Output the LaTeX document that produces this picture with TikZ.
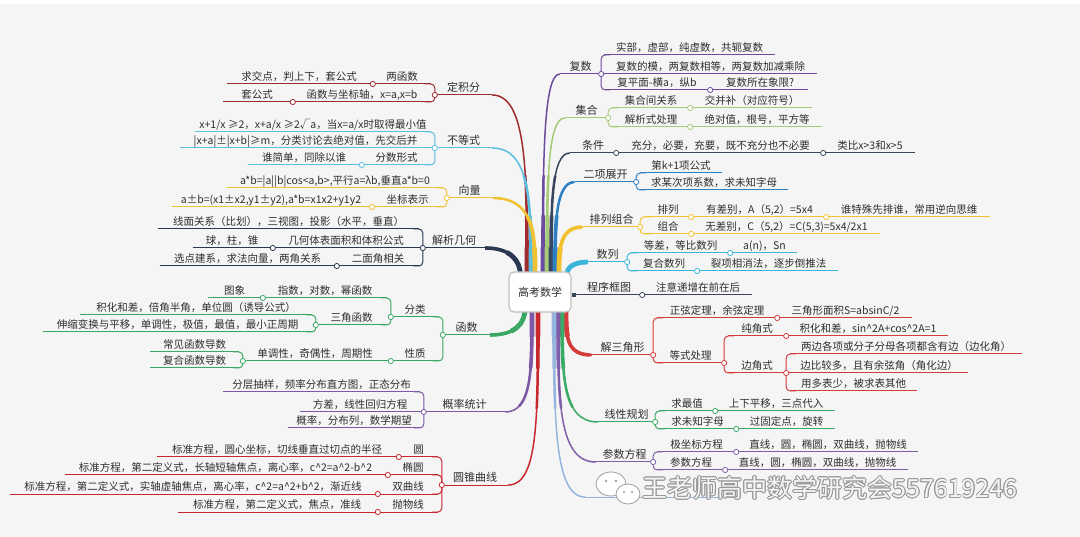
\documentclass[tikz,border=0pt]{standalone}
\usepackage{fontspec}
\newfontfamily\cjk{Noto Sans CJK SC}
\usetikzlibrary{backgrounds}

\definecolor{bgc}{HTML}{F5F5F5}
\definecolor{txt}{HTML}{2E2E2E}
\definecolor{cdj}{HTML}{9E2B2E}
\definecolor{cbd}{HTML}{5BBFE0}
\definecolor{cxl}{HTML}{F0C232}
\definecolor{cjx}{HTML}{2A3852}
\definecolor{chs}{HTML}{3AA862}
\definecolor{cgl}{HTML}{7C58A6}
\definecolor{cyz}{HTML}{C7282E}
\definecolor{cfs}{HTML}{6B4C9E}
\definecolor{cjh}{HTML}{A6CB78}
\definecolor{ctj}{HTML}{39465F}
\definecolor{cex}{HTML}{2F80C2}
\definecolor{cpz}{HTML}{F2C12E}
\definecolor{csl}{HTML}{3CB5DA}
\definecolor{ccx}{HTML}{3B465E}
\definecolor{csj}{HTML}{D43B3B}
\definecolor{cxg}{HTML}{3AAA66}
\definecolor{ccs}{HTML}{7E5DA9}
\definecolor{cls}{HTML}{96B5DE}

\tikzset{
  tp/.style={anchor=south, inner xsep=0pt, inner ysep=1pt, text height=8.5pt, text depth=2pt, text=txt},
  hd/.style={tp, font=\cjk\fontsize{11}{13}\selectfont},
  ln/.style={draw=#1, line width=1pt},
  kn/.style={draw=#1, line width=1pt, rounded corners=4pt},
  ring/.style={fill=white, draw=#1, line width=0.8pt},
  wm/.style={font=\cjk\fontsize{25}{28}\selectfont, inner sep=0pt}
}

\newcommand\trunk[2]{%
  \foreach \tw/\tl in {4.8pt/28pt,3.6pt/60pt,2.5pt/100pt}
    \draw[draw=#1, line width=\tw, dash pattern=on \tl off 3000pt] #2;
  \draw[draw=#1, line width=1.5pt] #2;}
\newcommand\ca{\textasciicircum}

\begin{document}
\begin{tikzpicture}[x=1pt, y=1pt, font=\cjk\fontsize{10.5}{12}\selectfont]
        \useasboundingbox (0,0) rectangle (1080,-537);

        \node[draw=gray!50, fill=white, rounded corners=5pt, line width=1.2pt, minimum width=62pt, minimum height=40pt, font=\cjk\fontsize{11}{13}\selectfont, text=txt] (root) at (540,-292) {高考数学};

        % right side
        \node[hd, minimum width=41pt] (fs) at (580.5,-74) {复数};
        \node[tp, minimum width=171pt] (fs1) at (689.5,-55) {实部，虚部，纯虚数，共轭复数};
        \node[tp, minimum width=213pt] (fs2) at (710.5,-74) {复数的模，两复数相等，两复数加减乘除};
        \node[tp, minimum width=106pt] (fs3) at (657,-90) {复平面-横a，纵b};
        \node[tp, minimum width=96pt] (fs3a) at (760,-90) {复数所在象限?};
        \foreach \n in {fs,fs1,fs2,fs3,fs3a} \draw[ln=cfs] (\n.south west) -- (\n.south east);
        \foreach \pn/\cn in {fs/fs1,fs/fs3} \draw[kn=cfs] (\pn.south east) |- ([xshift=6pt]\cn.south west);
        \foreach \pn/\cn in {fs/fs2,fs3/fs3a} \draw[ln=cfs] (\pn.south east) -- (\cn.south west);
        \foreach \n in {fs,fs3} \filldraw[ring=cfs] (\n.south east) circle (2.6pt);

        \node[hd, minimum width=43pt] (jh) at (586.5,-118) {集合};
        \node[tp, minimum width=78pt] (jh1) at (651,-108) {集合间关系};
        \node[tp, minimum width=120pt] (jh1a) at (752,-108) {交并补（对应符号）};
        \node[tp, minimum width=78pt] (jh2) at (651,-127) {解析式处理};
        \node[tp, minimum width=130pt] (jh2a) at (757,-127) {绝对值，根号，平方等};
        \foreach \n in {jh,jh1,jh1a,jh2,jh2a} \draw[ln=cjh] (\n.south west) -- (\n.south east);
        \foreach \pn/\cn in {jh/jh1,jh/jh2} \draw[kn=cjh] (\pn.south east) |- ([xshift=6pt]\cn.south west);
        \foreach \pn/\cn in {jh1/jh1a,jh2/jh2a} \draw[ln=cjh] (\pn.south east) -- (\cn.south west);
        \foreach \n in {jh,jh1,jh2} \filldraw[ring=cjh] (\n.south east) circle (2.6pt);

        \node[hd, minimum width=46pt] (tj) at (593,-153) {条件};
        \node[tp, minimum width=205pt] (tj1) at (720.5,-153) {充分，必要，充要，既不充分也不必要};
        \node[tp, minimum width=90pt] (tj1a) at (870,-153) {类比x>3和x>5};
        \foreach \n in {tj,tj1,tj1a} \draw[ln=ctj] (\n.south west) -- (\n.south east);
        \foreach \pn/\cn in {tj/tj1,tj1/tj1a} \draw[ln=ctj] (\pn.south east) -- (\cn.south west);
        \foreach \n in {tj,tj1} \filldraw[ring=ctj] (\n.south east) circle (2.6pt);

        \node[hd, minimum width=61pt] (ex) at (605.5,-182) {二项展开};
        \node[tp, minimum width=82pt] (ex1) at (681,-173) {第k+1项公式};
        \node[tp, minimum width=148pt] (ex2) at (714,-190) {求某次项系数，求未知字母};
        \foreach \n in {ex,ex1,ex2} \draw[ln=cex] (\n.south west) -- (\n.south east);
        \foreach \pn/\cn in {ex/ex1,ex/ex2} \draw[kn=cex] (\pn.south east) |- ([xshift=6pt]\cn.south west);
        \filldraw[ring=cex] (ex.south east) circle (2.6pt);

        \node[hd, minimum width=57pt] (pz) at (611.5,-227) {排列组合};
        \node[tp, minimum width=46pt] (pz1) at (668,-217) {排列};
        \node[tp, minimum width=133pt] (pz1a) at (759.5,-217) {有差别，A（5,2）=5x4};
        \node[tp, minimum width=162pt] (pz1b) at (909,-217) {谁特殊先排谁，常用逆向思维};
        \node[tp, minimum width=46pt] (pz2) at (668,-234) {组合};
        \node[tp, minimum width=187pt] (pz2a) at (786.5,-234) {无差别，C（5,2）=C(5,3)=5x4/2x1};
        \foreach \n in {pz,pz1,pz1a,pz1b,pz2,pz2a} \draw[ln=cpz] (\n.south west) -- (\n.south east);
        \foreach \pn/\cn in {pz/pz1,pz/pz2} \draw[kn=cpz] (\pn.south east) |- ([xshift=6pt]\cn.south west);
        \foreach \pn/\cn in {pz1/pz1a,pz1a/pz1b,pz2/pz2a} \draw[ln=cpz] (\pn.south east) -- (\cn.south west);
        \foreach \n in {pz,pz1,pz1a,pz2} \filldraw[ring=cpz] (\n.south east) circle (2.6pt);

        \node[hd, minimum width=39pt] (sl) at (607.5,-262) {数列};
        \node[tp, minimum width=99pt] (sl1) at (680.5,-253) {等差，等比数列};
        \node[tp, minimum width=65pt] (sl1a) at (764.5,-253) {a(n)，Sn};
        \node[tp, minimum width=66pt] (sl2) at (664,-271) {复合数列};
        \node[tp, minimum width=139pt] (sl2a) at (768.5,-271) {裂项相消法，逐步倒推法};
        \foreach \n in {sl,sl1,sl1a,sl2,sl2a} \draw[ln=csl] (\n.south west) -- (\n.south east);
        \foreach \pn/\cn in {sl/sl1,sl/sl2} \draw[kn=csl] (\pn.south east) |- ([xshift=6pt]\cn.south west);
        \foreach \pn/\cn in {sl1/sl1a,sl2/sl2a} \draw[ln=csl] (\pn.south east) -- (\cn.south west);
        \foreach \n in {sl,sl1,sl2} \filldraw[ring=csl] (\n.south east) circle (2.6pt);

        \node[hd, minimum width=66pt] (cx) at (609,-295) {程序框图};
        \node[tp, minimum width=108pt] (cx1) at (698,-295) {注意递增在前在后};
        \foreach \n in {cx,cx1} \draw[ln=ccx] (\n.south west) -- (\n.south east);
        \draw[ln=ccx] (cx.south east) -- (cx1.south west);
        \filldraw[ring=ccx] (cx.south east) circle (2.6pt);

        \node[hd, minimum width=61pt] (sj) at (622.5,-355) {解三角形};
        \node[tp, minimum width=120pt] (sj1) at (717,-318) {正弦定理，余弦定理};
        \node[tp, minimum width=133pt] (sj1a) at (845.5,-318) {三角形面积S=absinC/2};
        \node[tp, minimum width=67pt] (sj2) at (690.5,-363) {等式处理};
        \node[tp, minimum width=58pt] (sj2a) at (757,-336) {纯角式};
        \node[tp, minimum width=160pt] (sj2a1) at (868,-336) {积化和差，sin\ca 2A+cos\ca 2A=1};
        \node[tp, minimum width=58pt] (sj2b) at (757,-373) {边角式};
        \node[tp, minimum width=232pt] (sj2b1) at (906,-354) {两边各项或分子分母各项都含有边（边化角）};
        \node[tp, minimum width=178pt] (sj2b2) at (879,-373) {边比较多，且有余弦角（角化边）};
        \node[tp, minimum width=127pt] (sj2b3) at (853.5,-391) {用多表少，被求表其他};
        \foreach \n in {sj,sj1,sj1a,sj2,sj2a,sj2a1,sj2b,sj2b1,sj2b2,sj2b3} \draw[ln=csj] (\n.south west) -- (\n.south east);
        \foreach \pn/\cn in {sj/sj1,sj/sj2,sj2/sj2a,sj2/sj2b,sj2b/sj2b1,sj2b/sj2b3} \draw[kn=csj] (\pn.south east) |- ([xshift=6pt]\cn.south west);
        \foreach \pn/\cn in {sj1/sj1a,sj2a/sj2a1,sj2b/sj2b2} \draw[ln=csj] (\pn.south east) -- (\cn.south west);
        \foreach \n in {sj,sj1,sj2,sj2a,sj2b} \filldraw[ring=csj] (\n.south east) circle (2.6pt);

        \node[hd, minimum width=57pt] (xg) at (626.5,-422) {线性规划};
        \node[tp, minimum width=56pt] (xg1) at (687,-411) {求最值};
        \node[tp, minimum width=118pt] (xg1a) at (776,-411) {上下平移，三点代入};
        \node[tp, minimum width=77pt] (xg2) at (697.5,-429) {求未知字母};
        \node[tp, minimum width=97pt] (xg2a) at (786.5,-429) {过固定点，旋转};
        \foreach \n in {xg,xg1,xg1a,xg2,xg2a} \draw[ln=cxg] (\n.south west) -- (\n.south east);
        \foreach \pn/\cn in {xg/xg1,xg/xg2} \draw[kn=cxg] (\pn.south east) |- ([xshift=6pt]\cn.south west);
        \foreach \pn/\cn in {xg1/xg1a,xg2/xg2a} \draw[ln=cxg] (\pn.south east) -- (\cn.south west);
        \foreach \n in {xg,xg1,xg2} \filldraw[ring=cxg] (\n.south east) circle (2.6pt);

        \node[hd, minimum width=57pt] (cs) at (624.5,-462) {参数方程};
        \node[tp, minimum width=79pt] (cs1) at (696.5,-452) {极坐标方程};
        \node[tp, minimum width=180pt] (cs1a) at (828,-452) {直线，圆，椭圆，双曲线，抛物线};
        \node[tp, minimum width=68pt] (cs2) at (691,-470) {参数方程};
        \node[tp, minimum width=181pt] (cs2a) at (817.5,-470) {直线，圆，椭圆，双曲线，抛物线};
        \foreach \n in {cs,cs1,cs1a,cs2,cs2a} \draw[ln=ccs] (\n.south west) -- (\n.south east);
        \foreach \pn/\cn in {cs/cs1,cs/cs2} \draw[kn=ccs] (\pn.south east) |- ([xshift=6pt]\cn.south west);
        \foreach \pn/\cn in {cs1/cs1a,cs2/cs2a} \draw[ln=ccs] (\pn.south east) -- (\cn.south west);
        \foreach \n in {cs,cs1,cs2} \filldraw[ring=ccs] (\n.south east) circle (2.6pt);

        \coordinate (ls0) at (585,-497);
        \coordinate (ls) at (636,-497);
        \coordinate (ls1) at (740,-497);
        \draw[ln=cls] (ls0) -- (ls1);
        \filldraw[ring=cls] (ls) circle (2.6pt);

        % left side
        \node[hd, minimum width=57pt] (dj) at (463.5,-95) {定积分};
        \node[tp, minimum width=58pt] (dj1) at (402,-84) {两函数};
        \node[tp, minimum width=144pt] (dj1a) at (299,-84) {求交点，判上下，套公式};
        \node[tp, minimum width=138pt] (dj2) at (362,-102) {函数与坐标轴，x=a,x=b};
        \node[tp, minimum width=68pt] (dj2a) at (257,-102) {套公式};
        \foreach \n in {dj,dj1,dj1a,dj2,dj2a} \draw[ln=cdj] (\n.south west) -- (\n.south east);
        \foreach \pn/\cn in {dj/dj1,dj/dj2} \draw[kn=cdj] (\pn.south west) |- ([xshift=-6pt]\cn.south east);
        \foreach \pn/\cn in {dj1/dj1a,dj2/dj2a} \draw[ln=cdj] (\pn.south west) -- (\cn.south east);
        \foreach \n in {dj,dj1,dj2} \filldraw[ring=cdj] (\n.south west) circle (2.6pt);

        \node[hd, minimum width=57pt] (bd) at (463.5,-148) {不等式};
        \node[tp, minimum width=236pt] (bd1) at (313,-132) {x+1/x ≥2，x+a/x ≥2√a，当x=a/x时取得最小值};
        \node[tp, minimum width=251pt] (bd2) at (305.5,-148) {|x+a|±|x+b|≥m，分类讨论去绝对值，先交后并};
        \node[tp, minimum width=69pt] (bd3) at (396.5,-165) {分数形式};
        \node[tp, minimum width=112pt] (bd3a) at (304,-165) {谁简单，同除以谁};
        \foreach \n in {bd,bd1,bd2,bd3,bd3a} \draw[ln=cbd] (\n.south west) -- (\n.south east);
        \foreach \pn/\cn in {bd/bd1,bd/bd3} \draw[kn=cbd] (\pn.south west) |- ([xshift=-6pt]\cn.south east);
        \foreach \pn/\cn in {bd/bd2,bd3/bd3a} \draw[ln=cbd] (\pn.south west) -- (\cn.south east);
        \foreach \n in {bd,bd3} \filldraw[ring=cbd] (\n.south west) circle (2.6pt);

        \node[hd, minimum width=45pt] (xl) at (469.5,-198) {向量};
        \node[tp, minimum width=216pt] (xl1) at (335,-188) {a*b=|a||b|cos<a,b>,平行a=λb,垂直a*b=0};
        \node[tp, minimum width=71pt] (xl2) at (407.5,-207) {坐标表示};
        \node[tp, minimum width=198pt] (xl2a) at (271,-207) {a±b=(x1±x2,y1±y2),a*b=x1x2+y1y2};
        \foreach \n in {xl,xl1,xl2,xl2a} \draw[ln=cxl] (\n.south west) -- (\n.south east);
        \foreach \pn/\cn in {xl/xl1,xl/xl2} \draw[kn=cxl] (\pn.south west) |- ([xshift=-6pt]\cn.south east);
        \draw[ln=cxl] (xl2.south west) -- (xl2a.south east);
        \foreach \n in {xl,xl2} \filldraw[ring=cxl] (\n.south west) circle (2.6pt);

        \node[hd, minimum width=62pt] (jx) at (454,-248) {解析几何};
        \node[tp, minimum width=261pt] (jx1) at (288.5,-229) {线面关系（比划），三视图，投影（水平，垂直）};
        \node[tp, minimum width=146pt] (jx2) at (346,-248) {几何体表面积和体积公式};
        \node[tp, minimum width=78pt] (jx2a) at (232,-248) {球，柱，锥};
        \node[tp, minimum width=82pt] (jx3) at (378,-266) {二面角相关};
        \node[tp, minimum width=175pt] (jx3a) at (247.5,-266) {选点建系，求法向量，两角关系};
        \foreach \n in {jx,jx1,jx2,jx2a,jx3,jx3a} \draw[ln=cjx] (\n.south west) -- (\n.south east);
        \foreach \pn/\cn in {jx/jx1,jx/jx3} \draw[kn=cjx] (\pn.south west) |- ([xshift=-6pt]\cn.south east);
        \foreach \pn/\cn in {jx/jx2,jx2/jx2a,jx3/jx3a} \draw[ln=cjx] (\pn.south west) -- (\cn.south east);
        \foreach \n in {jx,jx2,jx3} \filldraw[ring=cjx] (\n.south west) circle (2.6pt);

        \node[hd, minimum width=47pt] (hs) at (466.5,-335) {函数};
        \node[tp, minimum width=48pt] (hs1) at (415,-317) {分类};
        \node[tp, minimum width=124pt] (hs1a) at (325,-298) {指数，对数，幂函数};
        \node[tp, minimum width=53pt] (hs1a1) at (234.5,-298) {图象};
        \node[tp, minimum width=71pt] (hs1b) at (351.5,-325) {三角函数};
        \node[tp, minimum width=232pt] (hs1b1) at (196,-315) {积化和差，倍角半角，单位圆（诱导公式）};
        \node[tp, minimum width=269pt] (hs1b2) at (177.5,-332) {伸缩变换与平移，单调性，极值，最值，最小正周期};
        \node[tp, minimum width=48pt] (hs2) at (415,-361) {性质};
        \node[tp, minimum width=144pt] (hs2a) at (315,-361) {单调性，奇偶性，周期性};
        \node[tp, minimum width=89pt] (hs2a1) at (194.5,-352) {常见函数导数};
        \node[tp, minimum width=89pt] (hs2a2) at (194.5,-368) {复合函数导数};
        \foreach \n in {hs,hs1,hs1a,hs1a1,hs1b,hs1b1,hs1b2,hs2,hs2a,hs2a1,hs2a2} \draw[ln=chs] (\n.south west) -- (\n.south east);
        \foreach \pn/\cn in {hs/hs1,hs/hs2,hs1/hs1a,hs1/hs1b,hs1b/hs1b1,hs1b/hs1b2,hs2a/hs2a1,hs2a/hs2a2} \draw[kn=chs] (\pn.south west) |- ([xshift=-6pt]\cn.south east);
        \foreach \pn/\cn in {hs1a/hs1a1,hs2/hs2a} \draw[ln=chs] (\pn.south west) -- (\cn.south east);
        \foreach \n in {hs,hs1,hs1a,hs1b,hs2,hs2a} \filldraw[ring=chs] (\n.south west) circle (2.6pt);

        \node[hd, minimum width=81pt] (gl) at (464.5,-412) {概率统计};
        \node[tp, minimum width=197pt] (gl1) at (321.5,-392) {分层抽样，频率分布直方图，正态分布};
        \node[tp, minimum width=120pt] (gl2) at (360,-412) {方差，线性回归方程};
        \node[tp, minimum width=132pt] (gl3) at (354,-428) {概率，分布列，数学期望};
        \foreach \n in {gl,gl1,gl2,gl3} \draw[ln=cgl] (\n.south west) -- (\n.south east);
        \foreach \pn/\cn in {gl/gl1,gl/gl3} \draw[kn=cgl] (\pn.south west) |- ([xshift=-6pt]\cn.south east);
        \draw[ln=cgl] (gl.south west) -- (gl2.south east);
        \filldraw[ring=cgl] (gl.south west) circle (2.6pt);

        \node[hd, minimum width=66pt] (yz) at (475,-485) {圆锥曲线};
        \node[tp, minimum width=39pt] (yz1) at (418.5,-457) {圆};
        \node[tp, minimum width=240pt] (yz1a) at (277,-457) {标准方程，圆心坐标，切线垂直过切点的半径};
        \node[tp, minimum width=50pt] (yz2) at (413,-475) {椭圆};
        \node[tp, minimum width=321pt] (yz2a) at (225.5,-475) {标准方程，第二定义式，长轴短轴焦点，离心率，c\ca 2=a\ca 2-b\ca 2};
        \node[tp, minimum width=60pt] (yz3) at (408,-494) {双曲线};
        \node[tp, minimum width=366pt] (yz3a) at (193,-494) {标准方程，第二定义式，实轴虚轴焦点，离心率，c\ca 2=a\ca 2+b\ca 2，渐近线};
        \node[tp, minimum width=60pt] (yz4) at (408,-512) {抛物线};
        \node[tp, minimum width=198pt] (yz4a) at (277,-512) {标准方程，第二定义式，焦点，准线};
        \foreach \n in {yz,yz1,yz1a,yz2,yz2a,yz3,yz3a,yz4,yz4a} \draw[ln=cyz] (\n.south west) -- (\n.south east);
        \foreach \pn/\cn in {yz/yz1,yz/yz2,yz/yz3,yz/yz4} \draw[kn=cyz] (\pn.south west) |- ([xshift=-6pt]\cn.south east);
        \foreach \pn/\cn in {yz1/yz1a,yz2/yz2a,yz3/yz3a,yz4/yz4a} \draw[ln=cyz] (\pn.south west) -- (\cn.south east);
        \foreach \n in {yz,yz1,yz2,yz3,yz4} \filldraw[ring=cyz] (\n.south west) circle (2.6pt);

        \begin{scope}[on background layer]
          \fill[bgc] (0,0) rectangle (1080,-537);
          \fill[white] (0,0) rectangle (1080,-4);
          \trunk{cfs}{([xshift=3pt,yshift=-4pt]root.north) .. controls +(0,110) and +(-17,0) .. (fs.south west)}
          \trunk{cjh}{([xshift=7pt,yshift=-4pt]root.north) .. controls +(0,85) and +(-18,0) .. (jh.south west)}
          \trunk{ctj}{([xshift=11pt,yshift=-4pt]root.north) .. controls +(0,65) and +(-19,0) .. (tj.south west)}
          \trunk{cex}{([xshift=15pt,yshift=-4pt]root.north) .. controls +(0,48) and +(-20,0) .. (ex.south west)}
          \trunk{cpz}{([xshift=19pt,yshift=-4pt]root.north) .. controls +(0,25) and +(-24,0) .. (pz.south west)}
          \trunk{csl}{([xshift=-5pt,yshift=-4pt]root.north east) .. controls +(0,8) and +(-14,0) .. (sl.south west)}
          \trunk{ccx}{(root.east |- cx.south west) -- (cx.south west)}
          \trunk{csj}{([xshift=26pt,yshift=4pt]root.south) .. controls +(0,-28) and +(-26,0) .. (sj.south west)}
          \trunk{cxg}{([xshift=22pt,yshift=4pt]root.south) .. controls +(0,-65) and +(-36,0) .. (xg.south west)}
          \trunk{ccs}{([xshift=18pt,yshift=4pt]root.south) .. controls +(0,-90) and +(-38,0) .. (cs.south west)}
          \trunk{cls}{([xshift=14pt,yshift=4pt]root.south) .. controls +(0,-110) and +(-31,0) .. (ls0)}
          \trunk{cdj}{([xshift=-13pt,yshift=-4pt]root.north) .. controls +(0,100) and +(35,0) .. (dj.south east)}
          \trunk{cbd}{([xshift=-9pt,yshift=-4pt]root.north) .. controls +(0,70) and +(39,0) .. (bd.south east)}
          \trunk{cxl}{([xshift=-5pt,yshift=-4pt]root.north) .. controls +(0,40) and +(43,0) .. (xl.south east)}
          \trunk{cjx}{([xshift=12pt,yshift=-4pt]root.north west) .. controls +(0,15) and +(25,0) .. (jx.south east)}
          \trunk{chs}{([xshift=-15pt,yshift=4pt]root.south) .. controls +(0,-15) and +(25,0) .. (hs.south east)}
          \trunk{cgl}{([xshift=-8pt,yshift=4pt]root.south) .. controls +(0,-60) and +(27,0) .. (gl.south east)}
          \trunk{cyz}{([xshift=-2pt,yshift=4pt]root.south) .. controls +(0,-110) and +(30,0) .. (yz.south east)}
        \end{scope}

        % watermark
        \filldraw[fill=white, draw=gray!75, line width=0.8pt] (611,-484) ellipse (15 and 12);
        \filldraw[fill=white, draw=gray!75, line width=0.8pt] (628,-494) ellipse (12 and 10);
        \fill[gray!75] (606,-481) circle (1.3pt) (616,-481) circle (1.3pt) (624,-492) circle (1.1pt) (632,-492) circle (1.1pt);
        \foreach \a in {0,30,...,330}
          \node[wm, text=gray!80] (wmo\a) at ([shift={(\a:0.8pt)}]830,-488) {王老师高中数学研究会557619246};
        \node[wm, text=white, text opacity=0.9] (wm) at (830,-488) {王老师高中数学研究会557619246};
\end{tikzpicture}
\end{document}
